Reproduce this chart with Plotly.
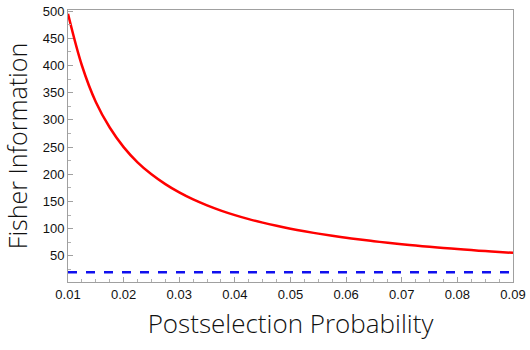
import plotly.graph_objects as go

prob = [0.01, 0.0125, 0.015, 0.0175, 0.02, 0.0225, 0.025, 0.0275, 0.03, 0.0325,
        0.035, 0.0375, 0.04, 0.0425, 0.045, 0.0475, 0.05, 0.0525, 0.055, 0.0575,
        0.06, 0.0625, 0.065, 0.0675, 0.07, 0.0725, 0.075, 0.0775, 0.08, 0.0825,
        0.085, 0.0875, 0.09]
fisher_post = [495, 400, 333, 286, 250, 222, 200, 182, 166.7, 153.8,
               142.9, 133.3, 125, 117.6, 111.1, 105.3, 100, 95.2, 90.9, 87.0,
               83.3, 80.0, 76.9, 74.1, 71.4, 69.0, 66.7, 64.5, 62.5, 60.6,
               58.8, 57.1, 55.6]
fisher_std = [20] * len(prob)

xticks = [0.01, 0.02, 0.03, 0.04, 0.05, 0.06, 0.07, 0.08, 0.09]
yticks = [50, 100, 150, 200, 250, 300, 350, 400, 450, 500]

fig = go.Figure()
fig.add_trace(go.Scatter(x=prob, y=fisher_post, mode="lines",
                         line=dict(color="#ff0000", width=2.5, shape="spline", smoothing=1.0),
                         showlegend=False))
fig.add_trace(go.Scatter(x=prob, y=fisher_std, mode="lines",
                         line=dict(color="#1010ee", width=2.5, dash="dash"),
                         showlegend=False))

axis_common = dict(showline=True, linecolor="#a0a0a0", linewidth=1, mirror=True,
                   ticks="inside", tickcolor="#a0a0a0", ticklen=5, showgrid=False,
                   zeroline=False, tickfont=dict(family="Liberation Sans, Arial", size=13, color="#111"))

fig.update_layout(
    width=530, height=350,
    margin=dict(l=68, r=13, t=4, b=68),
    plot_bgcolor="white", paper_bgcolor="white",
    xaxis=dict(range=[0.01, 0.09], tickvals=xticks, ticktext=[f"{v:.2f}" for v in xticks],
               minor=dict(ticks="inside", ticklen=3, tickcolor="#b0b0b0", dtick=0.0025),
               title=dict(text="Postselection Probability", standoff=14,
                          font=dict(family="Open Sans", size=26, color="#111", weight=300)),
               **axis_common),
    yaxis=dict(range=[2, 502], tickvals=yticks, ticktext=[str(v) for v in yticks],
               ticklabeloverflow="allow",
               minor=dict(ticks="inside", ticklen=3, tickcolor="#b0b0b0", dtick=25, tick0=0),
               title=dict(text="Fisher Information", standoff=8,
                          font=dict(family="Open Sans", size=25, color="#111", weight=300)),
               **axis_common),
)
fig.write_html("out.html")
